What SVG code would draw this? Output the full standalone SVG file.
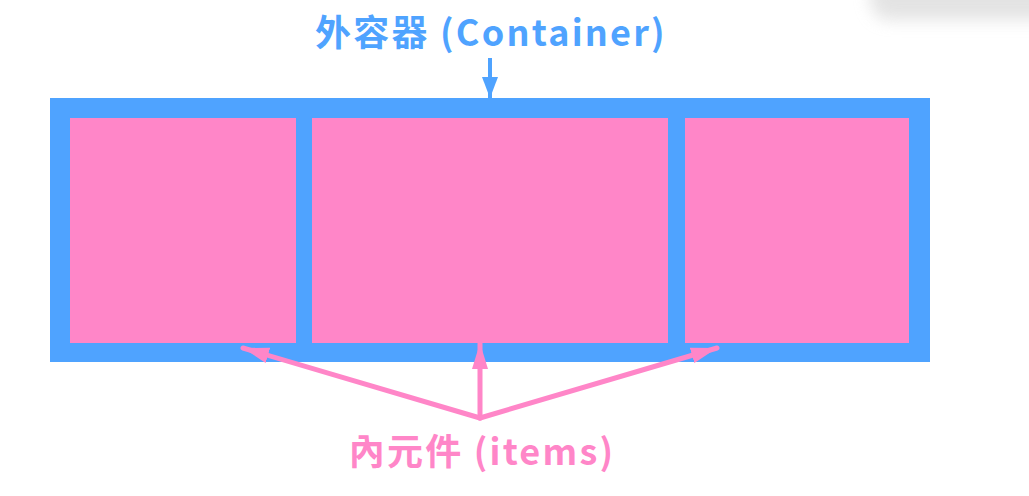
<svg xmlns="http://www.w3.org/2000/svg" width="1029" height="496" viewBox="0 0 1029 496">
  <style>
    .container { fill: #4fa3ff; }
    .item { fill: #ff86c8; }
    .label { font-family: "Noto Sans CJK TC", "Noto Sans", sans-serif; font-weight: 700; font-size: 36px; text-anchor: middle; letter-spacing: 2.2px; }
    .blue { fill: #4fa3ff; }
    .pink { fill: #ff86c8; }
    .conn-blue { stroke: #4fa3ff; stroke-width: 4; fill: none; }
    .conn-pink { stroke: #ff86c8; stroke-width: 5; fill: none; stroke-linecap: round; }
  </style>
  <defs>
    <marker id="headBlue" markerUnits="userSpaceOnUse" markerWidth="22" markerHeight="16" refX="21" refY="8" orient="auto">
      <path d="M0,0 L21,8 L0,16 Z" fill="#4fa3ff"/>
    </marker>
    <marker id="headPink" markerUnits="userSpaceOnUse" markerWidth="27" markerHeight="16" refX="26" refY="8" orient="auto">
      <path d="M0,0 L26,8 L0,16 Z" fill="#ff86c8"/>
    </marker>
    <filter id="blur" x="-50%" y="-50%" width="200%" height="200%">
      <feGaussianBlur stdDeviation="8"/>
    </filter>
  </defs>
  <rect width="1029" height="496" fill="#ffffff"/>
  <rect x="870" y="-40" width="200" height="60" rx="20" fill="#d8d8d8" filter="url(#blur)" opacity="0.7"/>

  <g id="container">
    <rect class="container" x="50" y="98" width="880" height="264"/>
  </g>
  <g id="item1">
    <rect class="item" x="70" y="118" width="226" height="225"/>
  </g>
  <g id="item2">
    <rect class="item" x="312" y="118" width="356" height="225"/>
  </g>
  <g id="item3">
    <rect class="item" x="685" y="118" width="224" height="225"/>
  </g>

  <g id="title">
    <text class="label blue" x="491" y="46">外容器 (Container)</text>
  </g>
  <g id="items-label">
    <text class="label pink" x="482" y="465">內元件 (items)</text>
  </g>

  <g id="connectors">
    <line class="conn-blue" x1="490" y1="58" x2="490" y2="98" marker-end="url(#headBlue)"/>
    <line class="conn-pink" x1="480" y1="418" x2="480" y2="343" marker-end="url(#headPink)"/>
    <line class="conn-pink" x1="480" y1="418" x2="243" y2="348" marker-end="url(#headPink)"/>
    <line class="conn-pink" x1="480" y1="418" x2="717" y2="348" marker-end="url(#headPink)"/>
  </g>
</svg>
